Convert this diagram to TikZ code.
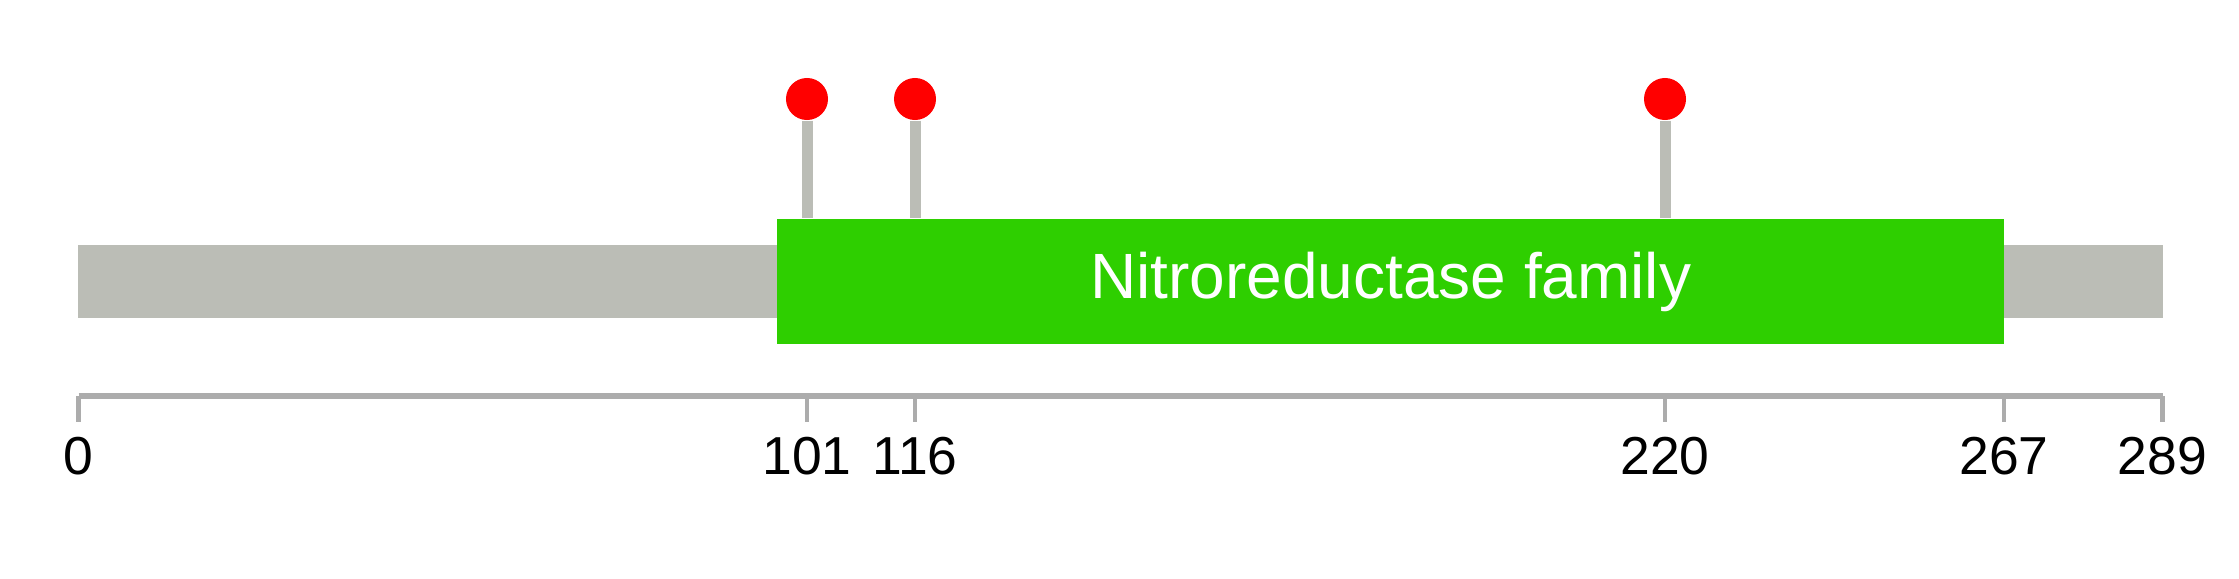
\documentclass[tikz,border=0pt]{standalone}
\usepackage{fontspec}
\setmainfont{Liberation Sans}
\definecolor{chaingray}{RGB}{187,189,182}
\definecolor{axisgray}{RGB}{172,172,172}
\definecolor{domgreen}{RGB}{46,207,0}
\begin{document}
\begin{tikzpicture}
[x=0.01cm,y=0.01cm,%
  proteinbar/.style={fill=chaingray,inner sep=0pt,minimum width=20.84cm,minimum height=0.73cm},%
  famdomain/.style={fill=domgreen,text=white,inner sep=0pt,minimum width=12.26cm,minimum height=1.25cm,font=\fontsize{18.2}{20}\selectfont},%
  sitedot/.style={shape=circle,fill=red,inner sep=0pt,minimum size=0.42cm},%
  stemline/.style={draw=chaingray,line width=0.11cm},%
  axisline/.style={draw=axisgray,line width=0.055cm},%
  tickmark/.style={draw=axisgray,line width=0.047cm},%
  poslabel/.style={anchor=base,font=\fontsize{15.2}{17}\selectfont}]
\useasboundingbox (0,0) rectangle (2239,578);
\node[proteinbar] (protein) at (1120.5,296.5) {};
\node[famdomain] (nr) at (1390.7,296.5) {Nitroreductase family};
\node[sitedot] (s101) at (807,479) {};
\node[sitedot] (s116) at (915,479) {};
\node[sitedot] (s220) at (1665,479) {};
\draw[stemline] (s101.south) -- (s101 |- nr.north);
\draw[stemline] (s116.south) -- (s116 |- nr.north);
\draw[stemline] (s220.south) -- (s220 |- nr.north);
\coordinate (t0) at (78.5,182);
\coordinate (t101) at (807,182);
\coordinate (t116) at (915,182);
\coordinate (t220) at (1665,182);
\coordinate (t267) at (2004,182);
\coordinate (t289) at (2162.5,182);
\draw[axisline] (t0) -- (t289);
\draw[tickmark] (t0) -- ++(0,-26);
\draw[tickmark] (t101) -- ++(0,-26);
\draw[tickmark] (t116) -- ++(0,-26);
\draw[tickmark] (t220) -- ++(0,-26);
\draw[tickmark] (t267) -- ++(0,-26);
\draw[tickmark] (t289) -- ++(0,-26);
\node[poslabel] (l0) at (78.5,104) {0};
\node[poslabel] (l101) at (807,104) {101};
\node[poslabel] (l116) at (915,104) {116};
\node[poslabel] (l220) at (1665,104) {220};
\node[poslabel] (l267) at (2004,104) {267};
\node[poslabel] (l289) at (2162.5,104) {289};
\end{tikzpicture}
\end{document}
